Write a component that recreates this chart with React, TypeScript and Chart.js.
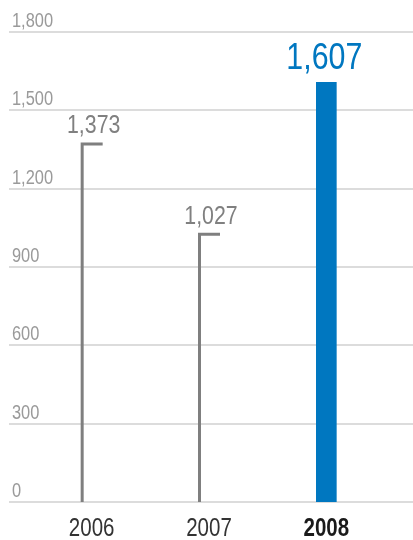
import React, { useEffect, useRef } from "react";
import { Chart, registerables } from "chart.js";

Chart.register(...registerables);

const categories = ["2006", "2007", "2008"];
const grayValues = [1373, 1027, null];
const blueValues = [null, null, 1607];
const valueLabels = ["1,373", "1,027", "1,607"];
const yTicks = [0, 300, 600, 900, 1200, 1500, 1800];
const yTickLabels = ["0", "300", "600", "900", "1,200", "1,500", "1,800"];

const FONT = '"Liberation Sans", Arial, sans-serif';
const GRAY = "#7f7f7f";
const BLUE = "#0077c0";
const NARROW = 0.82;

function narrowText(ctx: any, text: string, x: number, y: number, font: string, color: string, align: string) {
  ctx.save();
  ctx.font = font;
  ctx.fillStyle = color;
  ctx.textBaseline = "alphabetic";
  ctx.textAlign = align;
  ctx.translate(x, y);
  ctx.scale(NARROW, 1);
  ctx.fillText(text, 0, 0);
  ctx.restore();
}

const customDraw = {
  id: "customDraw",
  beforeDatasetsDraw(chart: any) {
    const { ctx } = chart;
    const y = chart.scales.y;
    ctx.save();
    ctx.strokeStyle = "#dcdcdc";
    ctx.lineWidth = 2;
    yTicks.forEach((v, i) => {
      const py = Math.round(y.getPixelForValue(v));
      ctx.beginPath();
      ctx.moveTo(9, py);
      ctx.lineTo(chart.width, py);
      ctx.stroke();
      narrowText(ctx, yTickLabels[i], 12, py - 5, `20px ${FONT}`, "#9a9a9a", "left");
    });
    ctx.restore();
  },
  afterDatasetsDraw(chart: any) {
    const { ctx } = chart;
    const x = chart.scales.x;
    ctx.save();
    const meta0 = chart.getDatasetMeta(0);
    meta0.data.forEach((bar: any, i: number) => {
      if (grayValues[i] == null) return;
      const left = bar.x - bar.width / 2;
      const right = bar.x + bar.width / 2;
      ctx.strokeStyle = GRAY;
      ctx.lineWidth = 3;
      ctx.beginPath();
      ctx.moveTo(left + 1.5, bar.base);
      ctx.lineTo(left + 1.5, bar.y);
      ctx.moveTo(left, bar.y + 0.5);
      ctx.lineTo(right, bar.y + 0.5);
      ctx.stroke();
      narrowText(ctx, valueLabels[i], bar.x + 2, bar.y - 10, `26px ${FONT}`, "#808080", "center");
    });
    const meta1 = chart.getDatasetMeta(1);
    meta1.data.forEach((bar: any, i: number) => {
      if (blueValues[i] == null) return;
      narrowText(ctx, valueLabels[i], bar.x - 2, bar.y - 13, `37px ${FONT}`, BLUE, "center");
    });
    categories.forEach((c, i) => {
      const px = x.getPixelForValue(i);
      const bold = i === 2;
      narrowText(ctx, c, px, 536, `${bold ? "bold " : ""}25px ${FONT}`, bold ? "#1a1a1a" : "#333333", "center");
    });
    ctx.restore();
  },
};

export default function App() {
  const ref = useRef<HTMLCanvasElement>(null);
  useEffect(() => {
    if (!ref.current) return;
    const chart = new Chart(ref.current, {
      type: "bar",
      data: {
        labels: categories,
        datasets: [
          {
            data: grayValues as any,
            backgroundColor: "rgba(0,0,0,0)",
            barThickness: 22,
            grouped: false,
          } as any,
          {
            data: blueValues as any,
            backgroundColor: BLUE,
            barThickness: 20,
            grouped: false,
          } as any,
        ],
      },
      options: {
        animation: false,
        responsive: false,
        maintainAspectRatio: false,
        layout: { padding: { left: 33, right: 28, top: 32, bottom: 38 } },
        plugins: { legend: { display: false }, tooltip: { enabled: false } },
        scales: {
          x: { display: false },
          y: { display: false, min: 0, max: 1800 },
        },
      },
      plugins: [customDraw],
    });
    return () => chart.destroy();
  }, []);
  return (
    <div style={{ position: "fixed", left: 0, top: 0, width: 413, height: 540, background: "#fff" }}>
      <canvas ref={ref} width={413} height={540} style={{ width: 413, height: 540 }} />
    </div>
  );
}
